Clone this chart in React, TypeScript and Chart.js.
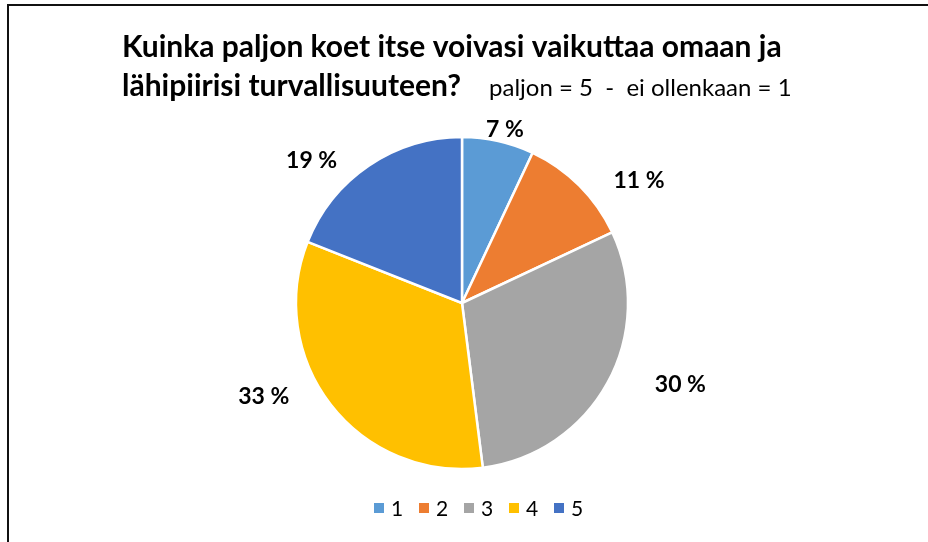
import React, { useEffect, useRef } from "react";
import { Chart, registerables } from "chart.js";

Chart.register(...registerables);

const categories = ["1", "2", "3", "4", "5"];
const shares = [7, 11, 30, 33, 19];
const colors = ["#5B9BD5", "#ED7D31", "#A5A5A5", "#FFC000", "#4472C4"];
const titleLine1 = "Kuinka paljon koet itse voivasi vaikuttaa omaan ja";
const titleLine2 = "lähipiirisi turvallisuuteen?";
const subtitleText = "paljon = 5  -  ei ollenkaan = 1";

const FONT = "Lato, 'Open Sans', sans-serif";

// label placement (best-fit style): distance from centre and angular shift from slice middle
const labelDist = [179, 215, 233, 219, 207];
const labelShiftDeg = [1.3, 10.4, -8.4, 12.6, -12.4];

const decorPlugin = {
  id: "decor",
  afterDraw(chart: any) {
    const ctx = chart.ctx as CanvasRenderingContext2D;
    ctx.save();
    // frame (top + left edges visible)
    ctx.fillStyle = "#111111";
    ctx.fillRect(7, 4, chart.width - 7, 2);
    ctx.fillRect(7, 4, 2, chart.height - 4);

    // title
    ctx.fillStyle = "#000000";
    ctx.textBaseline = "alphabetic";
    ctx.textAlign = "left";
    ctx.font = `bold 30px ${FONT}`;
    ctx.fillText(titleLine1, 122, 57);
    ctx.fillText(titleLine2, 122, 96);
    ctx.font = `24px ${FONT}`;
    ctx.fillText(subtitleText, 489, 96);

    // data labels
    const meta = chart.getDatasetMeta(0);
    const total = shares.reduce((a, b) => a + b, 0);
    ctx.font = `bold 23px ${FONT}`;
    ctx.textAlign = "center";
    ctx.textBaseline = "middle";
    meta.data.forEach((arc: any, i: number) => {
      const { x, y, startAngle, endAngle } = arc.getProps(["x", "y", "startAngle", "endAngle"], true);
      const mid = (startAngle + endAngle) / 2 + (labelShiftDeg[i] * Math.PI) / 180;
      const d = labelDist[i];
      const lx = x + Math.cos(mid) * d;
      const ly = y + Math.sin(mid) * d;
      const pct = Math.round((shares[i] / total) * 100);
      ctx.fillText(`${pct} %`, lx, ly);
    });

    // legend
    ctx.font = `21px ${FONT}`;
    ctx.textAlign = "left";
    ctx.textBaseline = "middle";
    categories.forEach((c, i) => {
      const bx = 374 + i * 45;
      ctx.fillStyle = colors[i];
      ctx.fillRect(bx, 503, 10, 10);
      ctx.fillStyle = "#000000";
      ctx.fillText(c, bx + 17, 509);
    });
    ctx.restore();
  },
};

export default function App() {
  const ref = useRef<HTMLCanvasElement | null>(null);
  useEffect(() => {
    if (!ref.current) return;
    const chart = new Chart(ref.current, {
      type: "pie",
      data: {
        labels: categories,
        datasets: [
          {
            data: shares,
            backgroundColor: colors,
            borderColor: "#ffffff",
            borderWidth: 2.5,
            radius: 166,
          } as any,
        ],
      },
      options: {
        responsive: false,
        animation: false,
        events: [],
        layout: { padding: { top: 136, bottom: 72, left: 200, right: 204 } },
        plugins: {
          legend: { display: false },
          tooltip: { enabled: false },
          title: { display: false },
        },
      },
      plugins: [decorPlugin],
    });
    return () => chart.destroy();
  }, []);
  return (
    <div style={{ position: "fixed", left: 0, top: 0, width: 928, height: 542, background: "#fff" }}>
      <canvas ref={ref} width={928} height={542} style={{ width: 928, height: 542, display: "block" }} />
    </div>
  );
}
